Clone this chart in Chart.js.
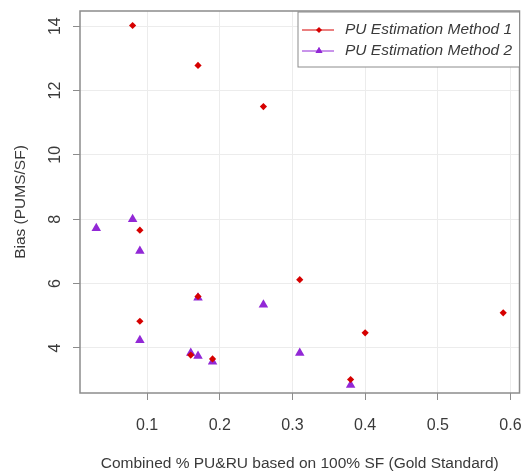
<!DOCTYPE html>
<html>
<head>
<meta charset="utf-8">
<script src="https://cdn.jsdelivr.net/npm/chart.js@4.4.1/dist/chart.umd.min.js"></script>
<style>
  html, body { margin: 0; padding: 0; background: #fff; }
  #wrap { width: 525px; height: 473px; }
</style>
</head>
<body>
<div id="wrap"><canvas id="biasChart" width="525" height="473"></canvas></div>
<script>
// values
const method1X = [0.08, 0.17, 0.26, 0.09, 0.31, 0.09, 0.17, 0.16, 0.19, 0.38, 0.40, 0.59];
const method1Y = [14.02, 12.78, 11.5, 7.66, 6.12, 4.83, 5.6, 3.78, 3.66, 3.02, 4.47, 5.09];
const method2X = [0.03, 0.08, 0.09, 0.17, 0.26, 0.09, 0.16, 0.17, 0.19, 0.31, 0.38];
const method2Y = [7.72, 8.0, 7.01, 5.56, 5.34, 4.24, 3.84, 3.75, 3.57, 3.84, 2.85];
const xTicks = [0.1, 0.2, 0.3, 0.4, 0.5, 0.6];
const yTicks = [4, 6, 8, 10, 12, 14];
const seriesNames = ["PU Estimation Method 1", "PU Estimation Method 2"];

const RED = "rgb(214, 0, 0)";
const PURPLE = "rgb(146, 40, 214)";
const BOX = "#8c8c8c";
const TEXT = "#3a3a3a";
const FONT = "Liberation Sans, Arial, sans-serif";

function toPoints(xs, ys) {
    return xs.map((x, i) => ({x: x, y: ys[i]}));
}

// R style box, rotated y tick labels and the legend
const rStylePlugin = {
    id: "rStyle",
    afterDraw(chart) {
        const ctx = chart.ctx;
        const area = chart.chartArea;
        const yScale = chart.scales.y;

        ctx.save();
        ctx.strokeStyle = BOX;
        ctx.lineWidth = 1.5;
        ctx.strokeRect(area.left, area.top, area.right - area.left, area.bottom - area.top);

        ctx.fillStyle = TEXT;
        ctx.font = "16px " + FONT;
        ctx.textAlign = "center";
        ctx.textBaseline = "middle";
        yTicks.forEach(v => {
            ctx.save();
            ctx.translate(56, yScale.getPixelForValue(v));
            ctx.rotate(-Math.PI / 2);
            ctx.fillText(String(v), 0, 0);
            ctx.restore();
        });

        // legend
        const lx = 298, ly = area.top + 1, lw = area.right - 298, lh = 55;
        ctx.fillStyle = "#fff";
        ctx.fillRect(lx, ly, lw, lh);
        ctx.strokeStyle = BOX;
        ctx.lineWidth = 1;
        ctx.strokeRect(lx, ly, lw, lh);
        const rows = [{color: RED, style: "rectRot", r: 2.8}, {color: PURPLE, style: "triangle", r: 4}];
        rows.forEach((row, i) => {
            const y = ly + 18 + i * 21;
            ctx.strokeStyle = row.color;
            ctx.lineWidth = 1;
            ctx.beginPath();
            ctx.moveTo(302, y);
            ctx.lineTo(334, y);
            ctx.stroke();
            ctx.fillStyle = row.color;
            Chart.helpers.drawPoint(ctx, {pointStyle: row.style, radius: row.r, borderWidth: 0}, 319, y);
            ctx.fill();
            ctx.fillStyle = TEXT;
            ctx.font = "italic 15.5px " + FONT;
            ctx.textAlign = "left";
            ctx.fillText(seriesNames[i], 345, y);
        });
        ctx.restore();
    }
};

new Chart("biasChart", {
    type: "scatter",
    data: {
        datasets: [
            {
                label: seriesNames[0],
                data: toPoints(method1X, method1Y),
                pointStyle: "rectRot",
                pointRadius: 3.6,
                backgroundColor: RED,
                borderColor: RED,
                borderWidth: 0
            },
            {
                label: seriesNames[1],
                data: toPoints(method2X, method2Y),
                pointStyle: "triangle",
                pointRadius: 5.5,
                backgroundColor: PURPLE,
                borderColor: PURPLE,
                borderWidth: 0
            }
        ]
    },
    options: {
        responsive: false,
        animation: false,
        layout: {padding: {top: 11, right: 5, left: 0, bottom: 0}},
        plugins: {
            legend: {display: false},
            tooltip: {enabled: false}
        },
        scales: {
            x: {
                type: "linear",
                min: 0.0076,
                max: 0.6124,
                afterBuildTicks: scale => { scale.ticks = xTicks.map(v => ({value: v})); },
                afterFit: scale => {
                    scale.height = 80;
                    scale.paddingLeft = 0;
                    scale.paddingRight = 0;
                },
                grid: {color: "#ececec", tickColor: BOX, tickLength: 7, lineWidth: 1},
                border: {display: false},
                ticks: {
                    color: TEXT,
                    font: {family: FONT, size: 16},
                    padding: 16,
                    maxRotation: 0,
                    callback: v => String(v)
                },
                title: {
                    display: true,
                    text: "Combined % PU&RU based on 100% SF (Gold Standard)",
                    color: TEXT,
                    font: {family: FONT, size: 15.5},
                    padding: {top: 1, bottom: 0}
                }
            },
            y: {
                type: "linear",
                min: 2.6,
                max: 14.47,
                afterBuildTicks: scale => { scale.ticks = yTicks.map(v => ({value: v})); },
                afterFit: scale => {
                    scale.width = 80;
                    scale.paddingTop = 0;
                    scale.paddingBottom = 0;
                },
                grid: {color: "#ececec", tickColor: BOX, tickLength: 7, lineWidth: 1},
                border: {display: false},
                ticks: {display: false},
                title: {
                    display: true,
                    text: "Bias (PUMS/SF)",
                    color: TEXT,
                    font: {family: FONT, size: 15.5},
                    padding: {top: 11, bottom: 0}
                }
            }
        }
    },
    plugins: [rStylePlugin]
});
</script>
</body>
</html>
